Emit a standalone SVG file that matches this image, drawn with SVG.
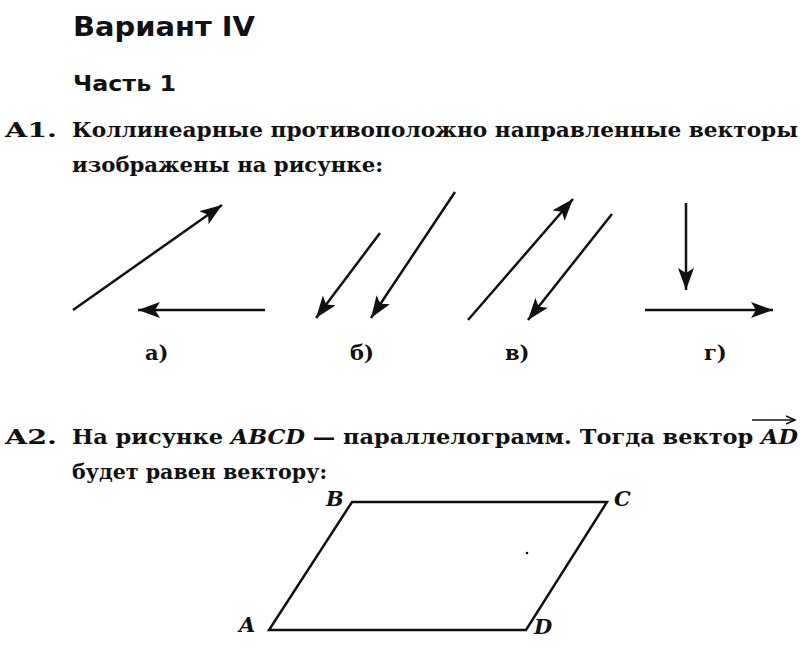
<svg xmlns="http://www.w3.org/2000/svg" width="800" height="650" viewBox="0 0 800 650">
<style>
.h{font-family:"DejaVu Sans","Liberation Sans",sans-serif;font-weight:bold;fill:#111}
.t{font-family:"DejaVu Serif","Liberation Serif",serif;font-weight:bold;font-size:21px;fill:#111}
.i{font-style:italic}
.l{stroke:#111;stroke-width:2.5;fill:none}
</style>
<defs>
<marker id="ah" markerUnits="userSpaceOnUse" markerWidth="24" markerHeight="16" refX="22" refY="8" orient="auto">
<path d="M0,0 L22,8 L0,16 L5,8 Z" fill="#111"/>
</marker>
</defs>
<rect width="800" height="650" fill="#fff"/>
<text class="h" x="73" y="36" font-size="27" textLength="182" lengthAdjust="spacingAndGlyphs">Вариант IV</text>
<text class="h" x="73" y="91" font-size="21" textLength="103" lengthAdjust="spacingAndGlyphs">Часть 1</text>
<text class="t" x="5" y="137" textLength="52" lengthAdjust="spacingAndGlyphs">A1.</text>
<text class="t" x="72" y="137" textLength="726" lengthAdjust="spacingAndGlyphs">Коллинеарные противоположно направленные векторы</text>
<text class="t" x="72" y="172" textLength="311" lengthAdjust="spacingAndGlyphs">изображены на рисунке:</text>
<g id="connectors">
<line class="l" x1="73" y1="310" x2="222" y2="205" marker-end="url(#ah)"/>
<line class="l" x1="265" y1="310" x2="138" y2="310" marker-end="url(#ah)"/>
<line class="l" x1="380" y1="233" x2="316" y2="318" marker-end="url(#ah)"/>
<line class="l" x1="455" y1="192" x2="371" y2="318" marker-end="url(#ah)"/>
<line class="l" x1="468" y1="320" x2="573" y2="199" marker-end="url(#ah)"/>
<line class="l" x1="612" y1="214" x2="528" y2="320" marker-end="url(#ah)"/>
<line class="l" x1="686" y1="203" x2="686" y2="290" marker-end="url(#ah)"/>
<line class="l" x1="645" y1="310" x2="773" y2="310" marker-end="url(#ah)"/>
</g>
<text class="t" x="145" y="360">а)</text>
<text class="t" x="350" y="360">б)</text>
<text class="t" x="505" y="360">в)</text>
<text class="t" x="704" y="360">г)</text>
<text class="t" x="5" y="444" textLength="52" lengthAdjust="spacingAndGlyphs">A2.</text>
<text class="t" x="72" y="444" textLength="726" lengthAdjust="spacingAndGlyphs">На рисунке <tspan class="i">ABCD</tspan> — параллелограмм. Тогда вектор <tspan class="i">AD</tspan></text>
<line x1="752" y1="420" x2="794" y2="420" stroke="#111" stroke-width="1.5"/>
<path d="M786,416 L795,420 L786,424" fill="none" stroke="#111" stroke-width="1.5"/>
<text class="t" x="72" y="479" textLength="255" lengthAdjust="spacingAndGlyphs">будет равен вектору:</text>
<g id="parallelogram">
<polygon class="l" points="352,502 607,502 526,630 269,630"/>
<circle cx="527" cy="553" r="1.3" fill="#111"/>
</g>
<text class="t i" x="326" y="506">B</text>
<text class="t i" x="614" y="506">C</text>
<text class="t i" x="239" y="632">A</text>
<text class="t i" x="534" y="634">D</text>
</svg>
